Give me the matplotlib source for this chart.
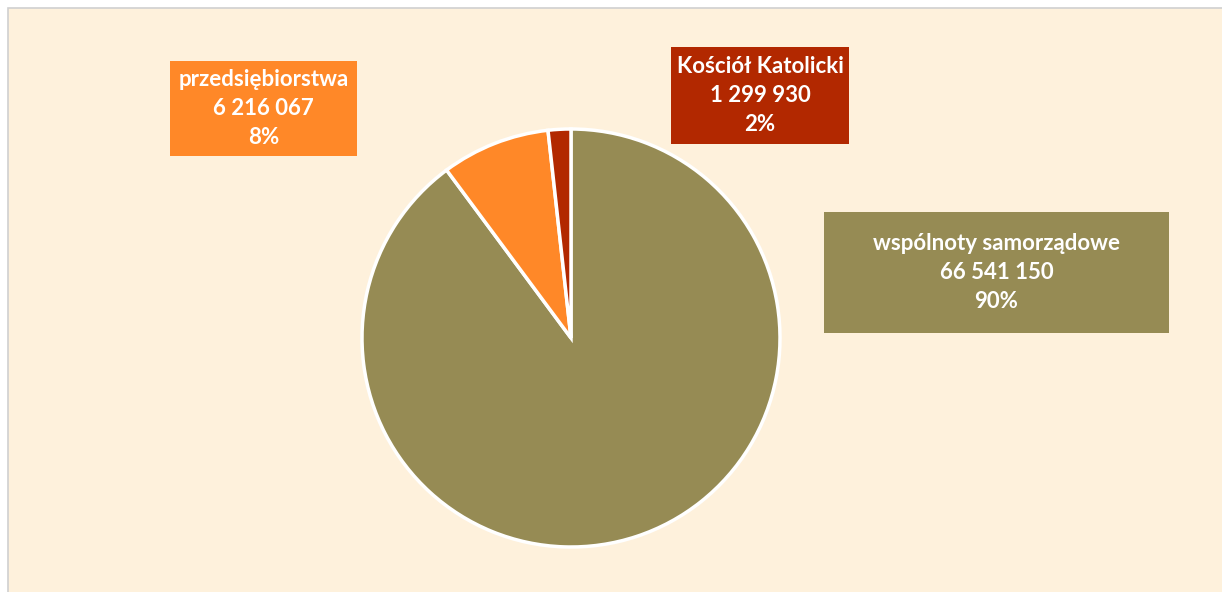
import matplotlib
matplotlib.use("Agg")
import matplotlib.pyplot as plt
from matplotlib.patches import Rectangle

categories = ["wspólnoty samorządowe", "przedsiębiorstwa", "Kościół Katolicki"]
values = [66541150, 6216067, 1299930]
value_labels = ["66 541 150", "6 216 067", "1 299 930"]
colors = ["#968B54", "#FF8828", "#B22800"]

W, H = 1222, 592
fig = plt.figure(figsize=(W / 100, H / 100), dpi=100)
fig.patch.set_facecolor("white")
bg = Rectangle((8 / W, -0.05), 1.1, (H - 8) / H + 0.05, transform=fig.transFigure,
               facecolor="#FEF1DC", edgecolor="#D0D0D0", linewidth=1.2, zorder=-10)
fig.add_artist(bg)

cx, cy, r = 571, 592 - 338, 209
ax = fig.add_axes([(cx - r) / W, (cy - r) / H, 2 * r / W, 2 * r / H])
ax.set_zorder(5)
ax.patch.set_visible(False)
wedges, _ = ax.pie(values, colors=colors, startangle=90, counterclock=False, radius=1,
                   wedgeprops=dict(edgecolor="white", linewidth=2.5))
for w in wedges:
    w.set_clip_on(False)
ax.set_xlim(-1.0, 1.0)
ax.set_ylim(-1.0, 1.0)
ax.set_aspect("equal")
ax.axis("off")

total = sum(values)
# label boxes: (x0, y0_top, x1, y1_bottom) in pixels
boxes = [(824, 212, 1169, 333), (170, 61, 357, 156), (671, 47, 849, 144)]
for cat, lab, v, col, (x0, y0, x1, y1) in zip(categories, value_labels, values, colors, boxes):
    fig.add_artist(Rectangle((x0 / W, 1 - y1 / H), (x1 - x0) / W, (y1 - y0) / H,
                             transform=fig.transFigure, facecolor=col, edgecolor="none", zorder=6))
    pct = f"{round(100 * v / total)}%"
    fig.text((x0 + x1) / 2 / W, 1 - (y0 + y1) / 2 / H, f"{cat}\n{lab}\n{pct}",
             ha="center", va="center", color="white", fontsize=16,
             fontweight="bold", family=["Lato", "DejaVu Sans"], linespacing=1.45, zorder=7)

fig.savefig("out.png", dpi=100, facecolor=fig.get_facecolor())
